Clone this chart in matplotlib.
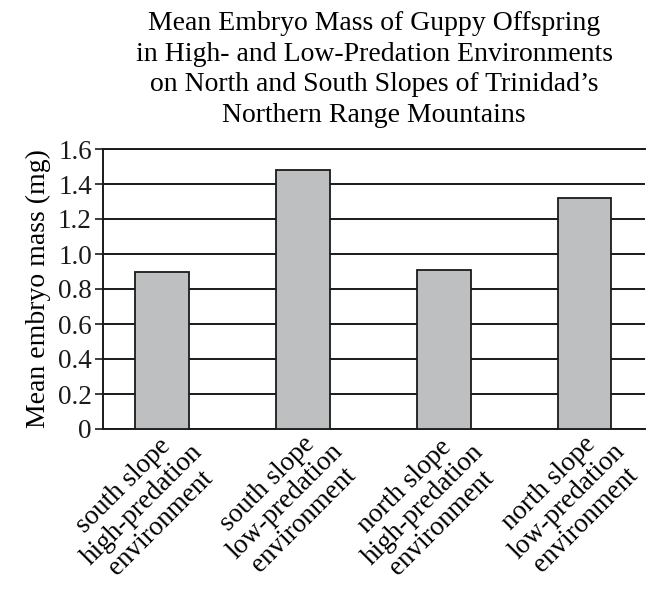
import matplotlib
matplotlib.use("Agg")
import matplotlib.pyplot as plt
import matplotlib.transforms as mtransforms

categories = ["south slope\nhigh-predation\nenvironment",
              "south slope\nlow-predation\nenvironment",
              "north slope\nhigh-predation\nenvironment",
              "north slope\nlow-predation\nenvironment"]
values = [0.90, 1.48, 0.91, 1.32]
yticks = [0, 0.2, 0.4, 0.6, 0.8, 1.0, 1.2, 1.4, 1.6]
ytick_labels = ["0", "0.2", "0.4", "0.6", "0.8", "1.0", "1.2", "1.4", "1.6"]
title = ("Mean Embryo Mass of Guppy Offspring\n"
         "in High- and Low-Predation Environments\n"
         "on North and South Slopes of Trinidad\u2019s\n"
         "Northern Range Mountains")
ylabel = "Mean embryo mass (mg)"

plt.rcParams['font.family'] = ['Liberation Serif', 'DejaVu Serif']

W, H = 655, 589
fig = plt.figure(figsize=(W/100, H/100), dpi=100)
L, R, T, B = 103, 645, 149, 429
ax = fig.add_axes([L/W, 1-B/H, (R-L)/W, (B-T)/H])

x = list(range(len(values)))
ax.set_axisbelow(True)
ax.yaxis.grid(True, color='#1a1a1a', linewidth=1.4)
ax.bar(x, values, width=0.383, color='#bebfc1', edgecolor='#1a1a1a', linewidth=1.3, zorder=3)

ax.set_xlim(-0.42, 3.43)
ax.set_ylim(0, 1.6)
ax.set_yticks(yticks)
ax.set_yticklabels(ytick_labels, fontsize=19.5)
ax.tick_params(axis='y', direction='out', length=6, width=1.2, pad=2, colors='#1a1a1a')
ax.set_xticks(x)
ax.set_xticklabels([])
ax.tick_params(axis='x', length=0)

# rotated category labels
base = mtransforms.blended_transform_factory(ax.transData, ax.transAxes)
offset = mtransforms.ScaledTranslation(9/100, 8/100, fig.dpi_scale_trans)
for xi, cat in zip(x, categories):
    ax.text(xi, 0, cat, transform=base + offset, fontsize=19.5, rotation=45,
            ha='right', va='top', rotation_mode='anchor',
            multialignment='center', linespacing=1.05, clip_on=False)

ax.spines['right'].set_visible(False)
for s in ['top', 'left', 'bottom']:
    ax.spines[s].set_linewidth(1.4)
    ax.spines[s].set_color('#1a1a1a')

ax.set_ylabel(ylabel, fontsize=20, labelpad=5)
fig.text((L+R)/2/W, 1-11/H, title, fontsize=20, linespacing=1.3,
         ha='center', va='top')

fig.savefig("out.png", dpi=100)
